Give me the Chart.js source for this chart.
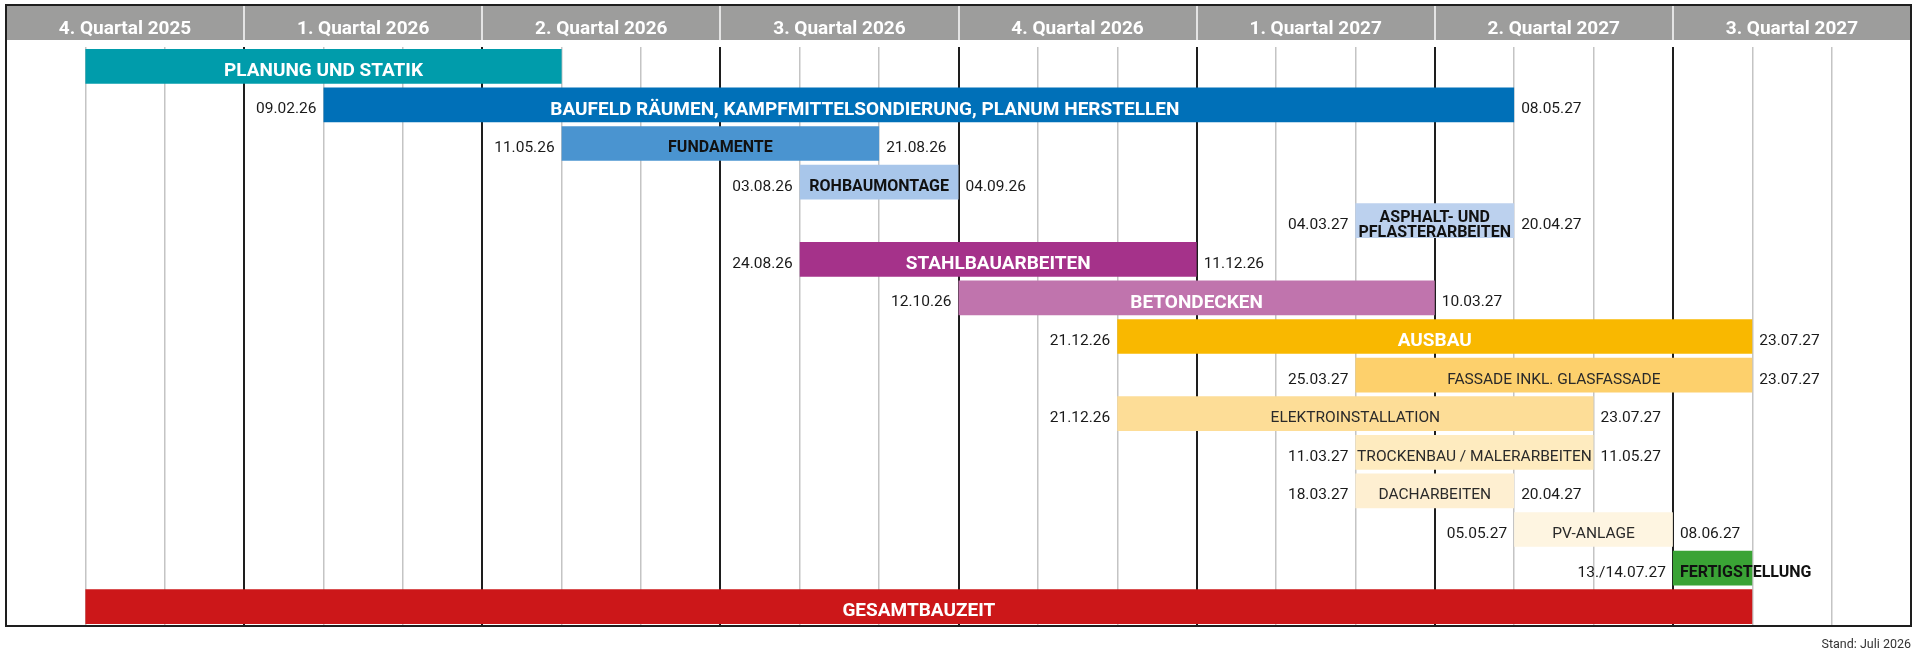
<!DOCTYPE html>
<html lang="de">
<head>
<meta charset="utf-8">
<title>Bauzeitenplan</title>
<script src="https://cdn.jsdelivr.net/npm/chart.js@4.4.1/dist/chart.umd.min.js"></script>
<style>
  html, body { margin: 0; padding: 0; background: #fff; }
  #wrap { width: 1920px; height: 659px; }
</style>
</head>
<body>
<div id="wrap"><canvas id="plan" width="1920" height="659"></canvas></div>
<script>
// ---- Daten ---- //
const quarterLabels = ["4. Quartal 2025", "1. Quartal 2026", "2. Quartal 2026", "3. Quartal 2026",
                       "4. Quartal 2026", "1. Quartal 2027", "2. Quartal 2027", "3. Quartal 2027"];

const taskNames = [
    "PLANUNG UND STATIK",
    "BAUFELD RÄUMEN, KAMPFMITTELSONDIERUNG, PLANUM HERSTELLEN",
    "FUNDAMENTE",
    "ROHBAUMONTAGE",
    "ASPHALT- UND\nPFLASTERARBEITEN",
    "STAHLBAUARBEITEN",
    "BETONDECKEN",
    "AUSBAU",
    "FASSADE INKL. GLASFASSADE",
    "ELEKTROINSTALLATION",
    "TROCKENBAU / MALERARBEITEN",
    "DACHARBEITEN",
    "PV-ANLAGE",
    "FERTIGSTELLUNG",
    "GESAMTBAUZEIT"
];

// Balken in Monaten ab 01.10.2025 (wie im Plan gezeichnet)
const barStart = [1, 4, 7, 10, 17, 10, 12, 14, 17, 14, 17, 17, 19, 21, 1];
const barEnd   = [7, 19, 11, 12, 19, 15, 18, 22, 22, 20, 20, 19, 21, 22, 22];

const startDates = ["", "09.02.26", "11.05.26", "03.08.26", "04.03.27", "24.08.26", "12.10.26", "21.12.26",
                    "25.03.27", "21.12.26", "11.03.27", "18.03.27", "05.05.27", "13./14.07.27", ""];
const endDates   = ["", "08.05.27", "21.08.26", "04.09.26", "20.04.27", "11.12.26", "10.03.27", "23.07.27",
                    "23.07.27", "23.07.27", "11.05.27", "20.04.27", "08.06.27", "", ""];

const standText = "Stand: Juli 2026";

// ---- Styles ---- //
const barColors = ["#009cab", "#0070b8", "#4a94d0", "#a8c6ea", "#bcd1ee", "#a5328a", "#c074ad", "#f9b800",
                   "#fdd06c", "#fddd97", "#feebbf", "#feefd1", "#fef5e1", "#3aa335", "#cc1719"];
const labelKinds = ["main", "main", "dark", "dark", "dark", "main", "main", "main",
                    "light", "light", "light", "light", "light", "darkStart", "main"];
// Baufeld-Text steht im Original etwas links der Mitte
const labelNudge = [0, -54, 0, 0, 0, 0, 0, 0, 0, 0, 0, 0, 0, 0, 0];

const labelStyles = {
    main:      { size: 19,   weight: "bold",   color: "#ffffff" },
    dark:      { size: 16,   weight: "bold",   color: "#111111" },
    darkStart: { size: 16,   weight: "bold",   color: "#111111" },
    light:     { size: 15.5, weight: "normal", color: "#2a2a2a" }
};
const FONT = "Roboto, 'Noto Sans', sans-serif";
const CAP = 0.711;      // Versalhoehe Roboto
const TEXT_SHIFT = 3;   // Text sitzt im Original etwas unter der Balkenmitte

function capBaseline(yCenter, size) {
    return yCenter + TEXT_SHIFT + CAP * size / 2;
}

// ---- Kopfzeile mit Quartalen ---- //
const headerPlugin = {
    id: "quarterHeader",
    afterDraw(chart) {
        const { ctx, chartArea, scales: { x } } = chart;
        const top = 5, bottom = 40;
        ctx.save();
        ctx.fillStyle = "#9d9d9c";
        ctx.fillRect(chartArea.left, top, chartArea.right - chartArea.left, bottom - top);
        ctx.font = "bold 19px " + FONT;
        ctx.textAlign = "center";
        ctx.textBaseline = "alphabetic";
        quarterLabels.forEach((q, i) => {
            const x0 = x.getPixelForValue(i * 3);
            const x1 = x.getPixelForValue(i * 3 + 3);
            if (i > 0) {
                ctx.strokeStyle = "#e4e4e4";
                ctx.lineWidth = 2;
                ctx.beginPath();
                ctx.moveTo(Math.round(x0), top);
                ctx.lineTo(Math.round(x0), bottom);
                ctx.stroke();
            }
            ctx.fillStyle = "#ffffff";
            ctx.fillText(q, (x0 + x1) / 2, 33.5);
        });
        ctx.restore();
    }
};

// ---- Beschriftung der Balken ---- //
const labelPlugin = {
    id: "barLabels",
    afterDatasetsDraw(chart) {
        const ctx = chart.ctx;
        const meta = chart.getDatasetMeta(0);
        meta.data.forEach((bar, i) => {
            const p = bar.getProps(["x", "y", "base"], true);
            const left = Math.min(p.x, p.base);
            const right = Math.max(p.x, p.base);
            const st = labelStyles[labelKinds[i]];
            ctx.save();
            ctx.textBaseline = "alphabetic";
            ctx.font = st.weight + " " + st.size + "px " + FONT;
            ctx.fillStyle = st.color;
            const lines = taskNames[i].split("\n");
            const lh = 15;
            lines.forEach((line, k) => {
                const yc = p.y + (k - (lines.length - 1) / 2) * lh;
                if (labelKinds[i] === "darkStart") {
                    ctx.textAlign = "left";
                    ctx.fillText(line, left + 7, capBaseline(yc, st.size));
                } else {
                    ctx.textAlign = "center";
                    ctx.fillText(line, (left + right) / 2 + labelNudge[i], capBaseline(yc, st.size));
                }
            });

            ctx.font = "15.5px " + FONT;
            ctx.fillStyle = "#1a1a1a";
            if (startDates[i]) {
                ctx.textAlign = "right";
                ctx.fillText(startDates[i], left - 7, capBaseline(p.y, 15.5));
            }
            if (endDates[i]) {
                ctx.textAlign = "left";
                ctx.fillText(endDates[i], right + 7, capBaseline(p.y, 15.5));
            }
            ctx.restore();
        });
    }
};

// ---- Rahmen und Stand ---- //
const framePlugin = {
    id: "frame",
    afterDraw(chart) {
        const { ctx, chartArea } = chart;
        ctx.save();
        ctx.strokeStyle = "#1e1e1e";
        ctx.lineWidth = 2;
        ctx.beginPath();
        ctx.moveTo(chartArea.left, 5);
        ctx.lineTo(chartArea.right, 5);
        ctx.lineTo(chartArea.right, chartArea.bottom);
        ctx.lineTo(chartArea.left, chartArea.bottom);
        ctx.closePath();
        ctx.stroke();

        ctx.font = "12.5px " + FONT;
        ctx.fillStyle = "#333333";
        ctx.textAlign = "right";
        ctx.textBaseline = "middle";
        ctx.fillText(standText, chartArea.right, 645);
        ctx.restore();
    }
};

new Chart(document.getElementById("plan"), {
    type: "bar",
    data: {
        labels: taskNames,
        datasets: [{
            data: barStart.map((s, i) => [s, barEnd[i]]),
            backgroundColor: barColors,
            borderWidth: 0,
            borderSkipped: false,
            barPercentage: 0.9,
            categoryPercentage: 1
        }]
    },
    options: {
        indexAxis: "y",
        responsive: false,
        animation: false,
        layout: { padding: { left: 6, right: 9, top: 47, bottom: 33 } },
        plugins: {
            legend: { display: false },
            tooltip: { enabled: false }
        },
        scales: {
            x: {
                type: "linear",
                min: 0,
                max: 24,
                ticks: { stepSize: 1, maxTicksLimit: 30, display: false },
                grid: {
                    drawTicks: false,
                    color: c => c.tick.value % 3 === 0 ? "#1e1e1e" : "#c4c4c4",
                    lineWidth: c => c.tick.value % 3 === 0 ? 2 : 1.5
                },
                border: { display: false }
            },
            y: { display: false }
        }
    },
    plugins: [headerPlugin, labelPlugin, framePlugin]
});
</script>
</body>
</html>
